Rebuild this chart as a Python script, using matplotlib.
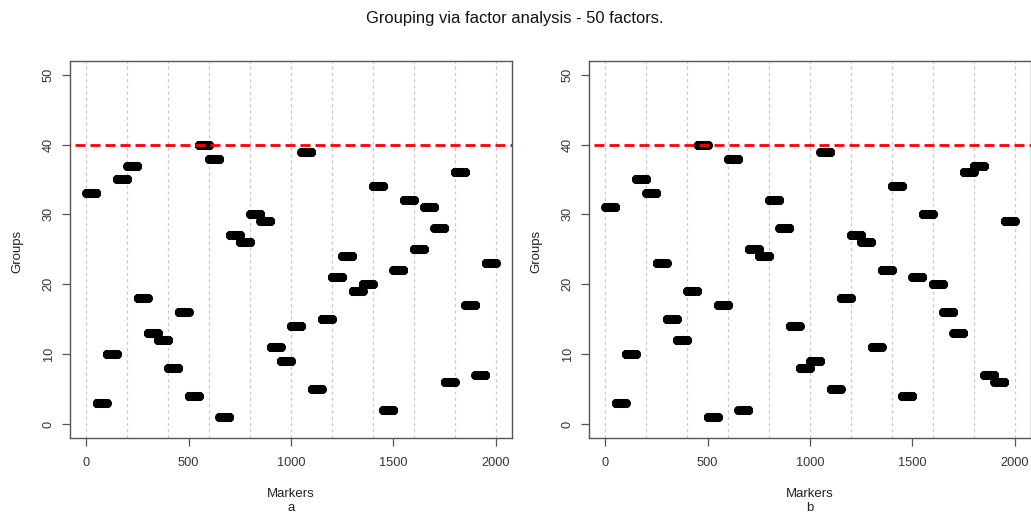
import numpy as np
import matplotlib
matplotlib.use("Agg")
import matplotlib.pyplot as plt

plt.rcParams['font.family'] = ['Liberation Sans', 'DejaVu Sans']

title = "Grouping via factor analysis - 50 factors."
block_size = 50  # markers per block
groups_a = [33, 3, 10, 35, 37, 18, 13, 12, 8, 16, 4, 40, 38, 1, 27, 26, 30, 29, 11, 9,
            14, 39, 5, 15, 21, 24, 19, 20, 34, 2, 22, 32, 25, 31, 28, 6, 36, 17, 7, 23]
groups_b = [31, 3, 10, 35, 33, 23, 15, 12, 19, 40, 1, 17, 38, 2, 25, 24, 32, 28, 14, 8,
            9, 39, 5, 18, 27, 26, 11, 22, 34, 4, 21, 30, 20, 16, 13, 36, 37, 7, 6, 29]
threshold = 40
xticks = [0, 500, 1000, 1500, 2000]
yticks = [0, 10, 20, 30, 40, 50]
gridx = list(range(0, 2001, 200))
panel_labels = ["a", "b"]

W, H = 1031, 514
fig = plt.figure(figsize=(W / 100, H / 100), dpi=100)
fig.text(515 / W, 1 - 18 / H, title, ha='center', va='center', fontsize=11.9, color='#111111')

axcol = '#555555'
positions = [(70 / W, 1 - 438 / H, 442 / W, (438 - 60.7) / H),
             (589 / W, 1 - 438 / H, 442 / W, (438 - 60.7) / H)]

for pos, groups, lab in zip(positions, [groups_a, groups_b], panel_labels):
    ax = fig.add_axes(pos)
    y = np.repeat(groups, block_size)
    x = np.arange(1, len(y) + 1)
    for gx in gridx:
        ax.axvline(gx, color='#c8c8c8', lw=0.9, dashes=(2.5, 2.5), zorder=1)
    ax.plot(x, y, 'o', mfc='none', mec='black', mew=1.5, ms=5.0, zorder=3)
    rl, = ax.plot([-200, 2300], [threshold, threshold], color='red', lw=2.0, zorder=4)
    rl.set_dashes((3.6, 1.8))
    ax.set_xlim(-79, 2080)
    ax.set_ylim(-2, 52)
    ax.set_xticks(xticks)
    ax.set_yticks(yticks)
    ax.set_yticklabels([str(t) for t in yticks], rotation=90, va='center')
    ax.tick_params(direction='out', length=6, width=0.9, color=axcol,
                   labelsize=9.2, labelcolor='#333333', pad=8)
    ax.tick_params(axis='y', pad=5)
    for s in ax.spines.values():
        s.set_color(axcol)
        s.set_linewidth(1.0)
    cx = pos[0] + pos[2] / 2
    fig.text(cx, 1 - 494 / H, "Markers", ha='center', va='center', fontsize=9.5, color='#222222')
    fig.text(cx, 1 - 508 / H, lab, ha='center', va='center', fontsize=9.5, color='#222222')
    fig.text(pos[0] - 53 / W, 1 - 251 / H, "Groups", ha='center', va='center',
             rotation=90, fontsize=9.5, color='#222222')

fig.savefig("out.png", dpi=100)
